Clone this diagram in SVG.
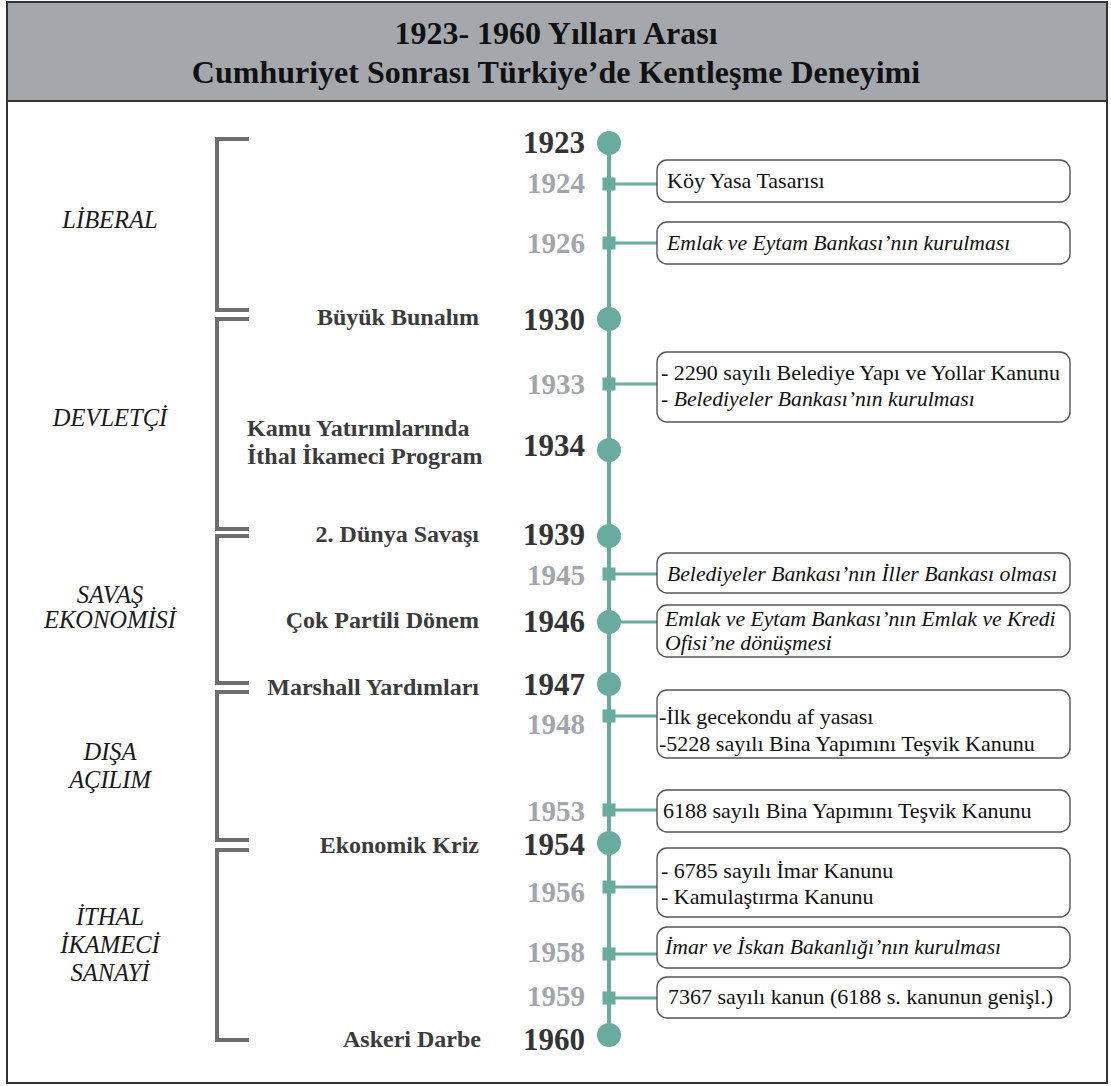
<svg xmlns="http://www.w3.org/2000/svg" width="1111" height="1086" viewBox="0 0 1111 1086">
<style>
.title{font-family:"Liberation Serif","Times New Roman",serif;font-weight:bold;font-size:32px;fill:#111;text-anchor:middle}
.yr{font-family:"Liberation Serif",serif;font-weight:bold;font-size:31px;fill:#333;text-anchor:end}
.yg{font-family:"Liberation Serif",serif;font-weight:bold;font-size:29px;fill:#a2a6ac;text-anchor:end}
.ev{font-family:"Liberation Serif",serif;font-weight:bold;font-size:24px;fill:#3b3b3b;text-anchor:end}
.evl{font-family:"Liberation Serif",serif;font-weight:bold;font-size:24px;fill:#3b3b3b}
.per{font-family:"Liberation Serif",serif;font-style:italic;font-size:24.5px;fill:#1a1a1a;text-anchor:middle}
.bt{font-family:"Liberation Serif",serif;font-size:22px;fill:#111}
.bi{font-family:"Liberation Serif",serif;font-style:italic;font-size:21.7px;fill:#111}
.box{fill:#fff;stroke:#555;stroke-width:1.4}
.br{fill:none;stroke:#6e6e6e;stroke-width:4}
.tl{stroke:#6aab9f;stroke-width:4}
.cn{stroke:#6aab9f;stroke-width:3}
.dot{fill:#6aab9f}
</style>
<rect x="0" y="0" width="1111" height="1086" fill="#fff"/>
<g id="frame">
<rect x="7" y="2" width="1100" height="99" fill="#a4a7ab"/>
<rect x="7" y="2" width="1100" height="1081" fill="none" stroke="#333" stroke-width="2"/>
<line x1="7" y1="101" x2="1107" y2="101" stroke="#333" stroke-width="2"/>
<text class="title" x="556" y="44">1923- 1960 Yılları Arası</text>
<text class="title" x="556" y="83">Cumhuriyet Sonrası Türkiye’de Kentleşme Deneyimi</text>
</g>
<g id="periods">
<g id="p-liberal"><path class="br" d="M249,139 H217 V310 H249"/><text class="per" x="110" y="228">LİBERAL</text></g>
<g id="p-devletci"><path class="br" d="M249,319 H217 V529 H249"/><text class="per" x="110" y="426">DEVLETÇİ</text></g>
<g id="p-savas"><path class="br" d="M249,536 H217 V683 H249"/><text class="per" x="110" y="603">SAVAŞ</text><text class="per" x="110" y="628">EKONOMİSİ</text></g>
<g id="p-disa"><path class="br" d="M249,692 H217 V840 H249"/><text class="per" x="110" y="760">DIŞA</text><text class="per" x="110" y="788">AÇILIM</text></g>
<g id="p-ithal"><path class="br" d="M249,850 H217 V1040 H249"/><text class="per" x="110" y="925">İTHAL</text><text class="per" x="110" y="953">İKAMECİ</text><text class="per" x="110" y="981">SANAYİ</text></g>
</g>
<g id="connectors">
<line class="tl" x1="609" y1="143" x2="609" y2="1035"/>
<line class="cn" x1="609" y1="184" x2="657" y2="184"/>
<line class="cn" x1="609" y1="243" x2="657" y2="243"/>
<line class="cn" x1="609" y1="384" x2="657" y2="384"/>
<line class="cn" x1="609" y1="574" x2="657" y2="574"/>
<line class="cn" x1="609" y1="622" x2="657" y2="622"/>
<line class="cn" x1="609" y1="716" x2="657" y2="716"/>
<line class="cn" x1="609" y1="810" x2="657" y2="810"/>
<line class="cn" x1="609" y1="887" x2="657" y2="887"/>
<line class="cn" x1="609" y1="954" x2="657" y2="954"/>
<line class="cn" x1="609" y1="998" x2="657" y2="998"/>
</g>
<g id="y1923"><circle class="dot" cx="609" cy="143" r="12"/><text class="yr" x="585" y="153">1923</text></g>
<g id="y1924"><rect class="dot" x="602.5" y="177.5" width="13" height="13"/><text class="yg" x="585" y="193">1924</text>
<rect class="box" x="657" y="160" width="413" height="42" rx="10"/><text class="bt" x="667" y="188">Köy Yasa Tasarısı</text></g>
<g id="y1926"><rect class="dot" x="602.5" y="236.5" width="13" height="13"/><text class="yg" x="585" y="253">1926</text>
<rect class="box" x="657" y="222" width="413" height="42" rx="10"/><text class="bi" x="667" y="250">Emlak ve Eytam Bankası’nın kurulması</text></g>
<g id="y1930"><circle class="dot" cx="609" cy="319" r="12"/><text class="yr" x="585" y="330">1930</text><text class="ev" x="479" y="325">Büyük Bunalım</text></g>
<g id="y1933"><rect class="dot" x="602.5" y="377.5" width="13" height="13"/><text class="yg" x="585" y="394">1933</text>
<rect class="box" x="657" y="352" width="413" height="70" rx="10"/><text class="bt" x="661" y="380">- 2290 sayılı Belediye Yapı ve Yollar Kanunu</text><text class="bi" x="661" y="406">- Belediyeler Bankası’nın kurulması</text></g>
<g id="y1934"><circle class="dot" cx="609" cy="450" r="12"/><text class="yr" x="585" y="456">1934</text><text class="evl" x="247" y="436">Kamu Yatırımlarında</text><text class="evl" x="247" y="464">İthal İkameci Program</text></g>
<g id="y1939"><circle class="dot" cx="609" cy="536" r="12"/><text class="yr" x="585" y="545">1939</text><text class="ev" x="479" y="542">2. Dünya Savaşı</text></g>
<g id="y1945"><rect class="dot" x="602.5" y="567.5" width="13" height="13"/><text class="yg" x="585" y="585">1945</text>
<rect class="box" x="657" y="553" width="413" height="40" rx="10"/><text class="bi" x="667" y="581">Belediyeler Bankası’nın İller Bankası olması</text></g>
<g id="y1946"><circle class="dot" cx="609" cy="622" r="12"/><text class="yr" x="585" y="632">1946</text><text class="ev" x="479" y="628">Çok Partili Dönem</text>
<rect class="box" x="657" y="605" width="413" height="52" rx="10"/><text class="bi" x="665" y="626">Emlak ve Eytam Bankası’nın Emlak ve Kredi</text><text class="bi" x="665" y="650">Ofisi’ne dönüşmesi</text></g>
<g id="y1947"><circle class="dot" cx="609" cy="684" r="12"/><text class="yr" x="585" y="695">1947</text><text class="ev" x="479" y="695">Marshall Yardımları</text></g>
<g id="y1948"><rect class="dot" x="602.5" y="709.5" width="13" height="13"/><text class="yg" x="585" y="734">1948</text>
<rect class="box" x="657" y="690" width="413" height="68" rx="10"/><text class="bt" x="659" y="724">-İlk gecekondu af yasası</text><text class="bt" x="659" y="751">-5228 sayılı Bina Yapımını Teşvik Kanunu</text></g>
<g id="y1953"><rect class="dot" x="602.5" y="803.5" width="13" height="13"/><text class="yg" x="585" y="821">1953</text>
<rect class="box" x="657" y="790" width="413" height="42" rx="10"/><text class="bt" x="663" y="818">6188 sayılı Bina Yapımını Teşvik Kanunu</text></g>
<g id="y1954"><circle class="dot" cx="609" cy="843" r="12"/><text class="yr" x="585" y="855">1954</text><text class="ev" x="479" y="853">Ekonomik Kriz</text></g>
<g id="y1956"><rect class="dot" x="602.5" y="880.5" width="13" height="13"/><text class="yg" x="585" y="902">1956</text>
<rect class="box" x="657" y="848" width="413" height="69" rx="10"/><text class="bt" x="661" y="878">- 6785 sayılı İmar Kanunu</text><text class="bt" x="661" y="904">- Kamulaştırma Kanunu</text></g>
<g id="y1958"><rect class="dot" x="602.5" y="947.5" width="13" height="13"/><text class="yg" x="585" y="962">1958</text>
<rect class="box" x="657" y="927" width="413" height="41" rx="10"/><text class="bi" x="665" y="954">İmar ve İskan Bakanlığı’nın kurulması</text></g>
<g id="y1959"><rect class="dot" x="602.5" y="991.5" width="13" height="13"/><text class="yg" x="585" y="1006">1959</text>
<rect class="box" x="657" y="977" width="413" height="41" rx="10"/><text class="bt" x="668" y="1004">7367 sayılı kanun (6188 s. kanunun genişl.)</text></g>
<g id="y1960"><circle class="dot" cx="609" cy="1035" r="12"/><text class="yr" x="585" y="1050">1960</text><text class="ev" x="481" y="1047">Askeri Darbe</text></g>
</svg>
